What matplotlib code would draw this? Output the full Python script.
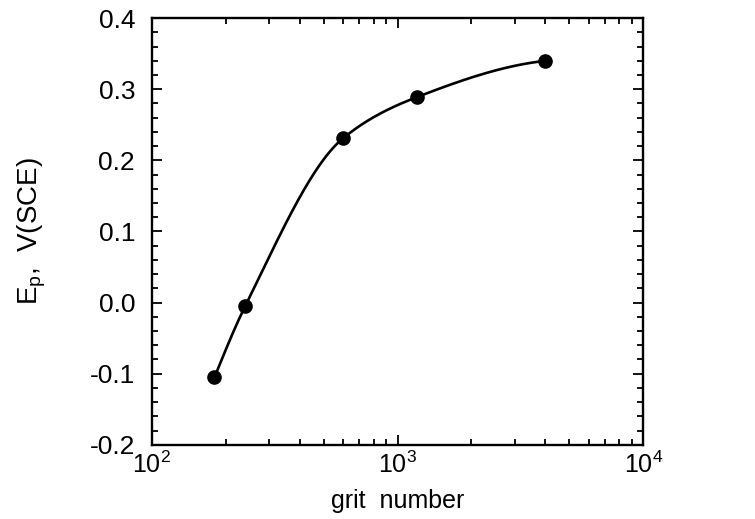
import numpy as np
import matplotlib
matplotlib.use("Agg")
import matplotlib.pyplot as plt

plt.rcParams['font.family'] = ['Liberation Sans', 'DejaVu Sans']
plt.rcParams['mathtext.default'] = 'regular'

# grit number vs pitting potential
grit = [180, 240, 600, 1200, 4000]
ep = [-0.105, -0.005, 0.231, 0.289, 0.340]


def pchip(u, y, n=400):
    # smooth monotone cubic through the points (Fritsch-Carlson slopes)
    u = np.asarray(u, float)
    y = np.asarray(y, float)
    h = np.diff(u)
    d = np.diff(y) / h
    m = np.zeros_like(y)
    for i in range(1, len(u) - 1):
        if d[i - 1] * d[i] > 0:
            w1 = 2 * h[i] + h[i - 1]
            w2 = h[i] + 2 * h[i - 1]
            m[i] = (w1 + w2) / (w1 / d[i - 1] + w2 / d[i])
    m[0] = ((2 * h[0] + h[1]) * d[0] - h[0] * d[1]) / (h[0] + h[1])
    m[-1] = ((2 * h[-1] + h[-2]) * d[-1] - h[-1] * d[-2]) / (h[-1] + h[-2])
    if m[-1] * d[-1] < 0:
        m[-1] = 0
    uu = np.linspace(u[0], u[-1], n)
    k = np.clip(np.searchsorted(u, uu) - 1, 0, len(u) - 2)
    t = (uu - u[k]) / h[k]
    yy = (2*t**3 - 3*t**2 + 1) * y[k] + (t**3 - 2*t**2 + t) * h[k] * m[k] \
        + (-2*t**3 + 3*t**2) * y[k + 1] + (t**3 - t**2) * h[k] * m[k + 1]
    return uu, yy


uu, yy = pchip(np.log10(grit), ep)

fig = plt.figure(figsize=(7.55, 5.19), dpi=100)
ax = fig.add_axes([0.201, 0.143, 0.651, 0.822])
ax.plot(10**uu, yy, color='black', lw=1.9)
ax.plot(grit, ep, 'o', color='black', ms=9.5)

ax.set_xscale('log')
ax.set_xlim(1e2, 1e4)
ax.set_ylim(-0.2, 0.4)
ax.set_yticks(np.arange(-0.2, 0.41, 0.1))
ax.set_yticks(np.arange(-0.2, 0.41, 0.02), minor=True)
ax.set_yticklabels(['-0.2', '-0.1', '0.0', '0.1', '0.2', '0.3', '0.4'])
ax.set_xticks([1e2, 1e3, 1e4])
ax.set_xticklabels(['$10^2$', '$10^3$', '$10^4$'])

for s in ax.spines.values():
    s.set_linewidth(1.7)
ax.tick_params(which='both', direction='in', top=True, right=True, width=1.3)
ax.tick_params(which='major', length=7)
ax.tick_params(which='minor', length=4)
ax.tick_params(axis='y', labelsize=19, pad=12)
ax.tick_params(axis='x', labelsize=18, pad=5)

ax.set_xlabel('grit  number', fontsize=18, labelpad=8)
ax.set_ylabel('E$_p$,  V(SCE)', fontsize=20, labelpad=30)

fig.savefig('out.png', dpi=100)
